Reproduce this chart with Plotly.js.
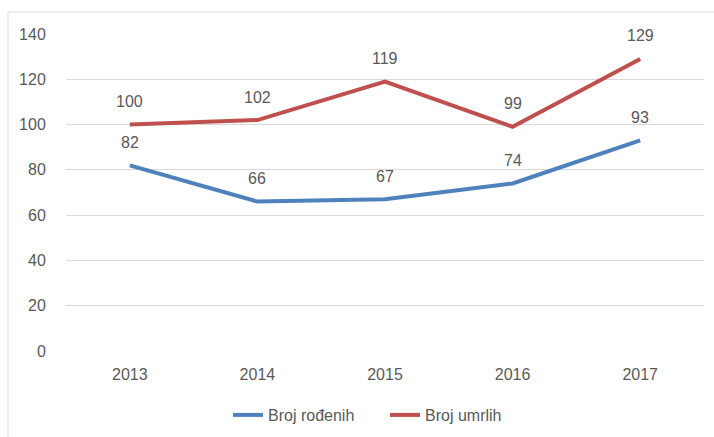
<!DOCTYPE html>
<html>
<head>
<meta charset="utf-8">
<script src="https://cdn.plot.ly/plotly-3.0.1.min.js"></script>
<style>html,body{margin:0;padding:0;background:#fff;}#chart{width:714px;height:437px;}</style>
</head>
<body>
<div id="chart"></div>
<script>
const years = ["2013", "2014", "2015", "2016", "2017"];
const rodjeni = [82, 66, 67, 74, 93];
const umrli = [100, 102, 119, 99, 129];
const seriesNames = ["Broj rođenih", "Broj umrlih"];
const yTicks = [0, 20, 40, 60, 80, 100, 120, 140];

const FONT = "Liberation Sans, Arial, sans-serif";
const TXT = "#595959";
const colors = ["#4F81BD", "#C0504D"];
const allSeries = [rodjeni, umrli];

const traces = allSeries.map((vals, i) => ({
  type: "scatter", mode: "lines", name: seriesNames[i],
  x: years, y: vals,
  line: {color: colors[i], width: 4},
  hoverinfo: "skip"
}));

const annotations = [];
allSeries.forEach(vals => {
  vals.forEach((v, j) => {
    annotations.push({x: j, y: v, xref: "x", yref: "y", text: String(v), showarrow: false,
      yshift: 23, yanchor: "middle", font: {family: FONT, size: 16, color: TXT}});
  });
});

const L = 66, R = 10, T = 34, B = 86, W = 714, H = 437;
const pw = W - L - R, ph = H - T - B;

const layout = {
  width: W, height: H,
  margin: {l: L, r: R, t: T, b: B, autoexpand: false},
  paper_bgcolor: "#ffffff", plot_bgcolor: "#ffffff",
  font: {family: FONT, size: 16, color: TXT},
  showlegend: true,
  legend: {orientation: "h", x: 0.5, xanchor: "center", y: -(415 - T - ph) / ph, yanchor: "middle",
    font: {family: FONT, size: 16, color: TXT}, traceorder: "normal", itemwidth: 30,
    entrywidth: 112, entrywidthmode: "pixels"},
  xaxis: {type: "category", range: [-0.5, 4.5], showgrid: false, zeroline: false,
    showline: false, ticks: "outside", ticklen: 9, tickcolor: "rgba(0,0,0,0)", automargin: false,
    tickfont: {family: FONT, size: 16, color: TXT}, fixedrange: true},
  yaxis: {range: [0, 140], tickvals: yTicks, ticktext: yTicks.map(String), automargin: false,
    showgrid: true, gridcolor: "#D9D9D9", gridwidth: 1, zeroline: false, showline: false,
    ticks: "outside", ticklen: 16, tickcolor: "rgba(0,0,0,0)",
    tickfont: {family: FONT, size: 16, color: TXT}, fixedrange: true},
  annotations: annotations,
  shapes: [{type: "rect", xref: "paper", yref: "paper",
    x0: (8 - L) / pw, x1: (W + 5 - L) / pw,
    y0: -(H + 5 - T - ph) / ph, y1: (T - 12 + ph) / ph,
    line: {color: "#D9D9D9", width: 1}, fillcolor: "rgba(0,0,0,0)", layer: "below"}]
};

Plotly.newPlot("chart", traces, layout, {displayModeBar: false, staticPlot: true});
</script>
</body>
</html>
